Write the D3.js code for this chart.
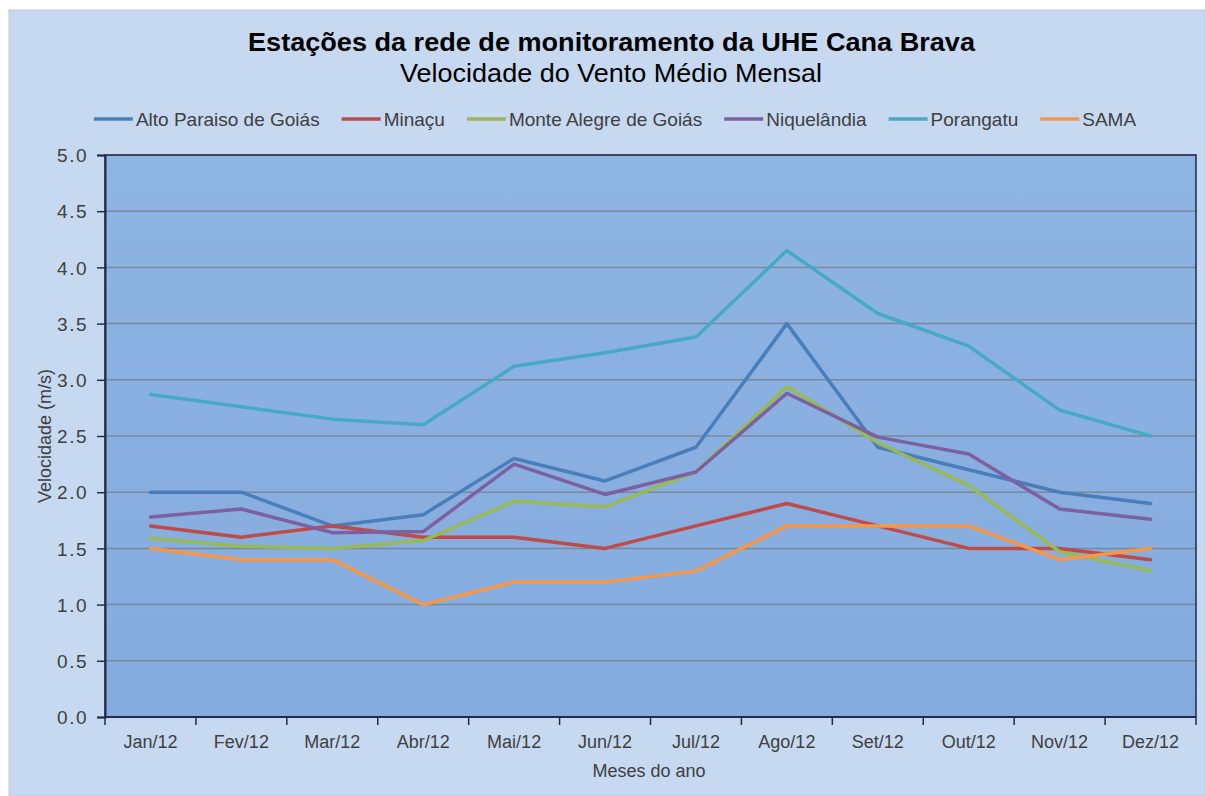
<!DOCTYPE html>
<html>
<head>
<meta charset="utf-8">
<script src="https://cdn.jsdelivr.net/npm/d3@7"></script>
<style>
  body { margin: 0; background: #ffffff; }
  svg { display: block; font-family: "Liberation Sans", Arial, sans-serif; }
</style>
</head>
<body>
<svg id="chart" width="1205" height="796"></svg>
<script>
// months on the x axis
const months = ['Jan/12', 'Fev/12', 'Mar/12', 'Abr/12', 'Mai/12', 'Jun/12',
                'Jul/12', 'Ago/12', 'Set/12', 'Out/12', 'Nov/12', 'Dez/12'];

// station names (legend order)
const stations = ['Alto Paraiso de Goiás', 'Minaçu', 'Monte Alegre de Goiás',
                  'Niquelândia', 'Porangatu', 'SAMA'];

// monthly mean wind speed (m/s)
const altoParaiso  = [2.00, 2.00, 1.70, 1.80, 2.30, 2.10, 2.40, 3.50, 2.40, 2.20, 2.00, 1.90];
const minacu       = [1.70, 1.60, 1.70, 1.60, 1.60, 1.50, 1.70, 1.90, 1.70, 1.50, 1.50, 1.40];
const monteAlegre  = [1.59, 1.52, 1.50, 1.57, 1.92, 1.87, 2.18, 2.94, 2.44, 2.06, 1.47, 1.30];
const niquelandia  = [1.78, 1.85, 1.64, 1.65, 2.25, 1.98, 2.18, 2.88, 2.49, 2.34, 1.85, 1.76];
const porangatu    = [2.87, 2.76, 2.65, 2.60, 3.12, 3.24, 3.38, 4.15, 3.59, 3.30, 2.73, 2.50];
const sama         = [1.50, 1.40, 1.40, 1.00, 1.20, 1.20, 1.30, 1.70, 1.70, 1.70, 1.40, 1.50];

const seriesValues = [altoParaiso, minacu, monteAlegre, niquelandia, porangatu, sama];
const colors = ['#4a7ebb', '#be4b48', '#98b954', '#7d60a0', '#46aac5', '#f79646'];

const yTicks = [0, 0.5, 1, 1.5, 2, 2.5, 3, 3.5, 4, 4.5, 5];

const svg = d3.select('#chart');

// chart area background
svg.append('rect')
  .attr('x', 9).attr('y', 10)
  .attr('width', 1205 - 9).attr('height', 796 - 10)
  .attr('fill', '#c6d9f1')
  .attr('stroke', '#b9cbe2').attr('stroke-width', 1);

const plot = { left: 105, right: 1196, top: 155, bottom: 717 };

const x = d3.scaleBand().domain(months).range([plot.left, plot.right]);
const y = d3.scaleLinear().domain([0, 5]).range([plot.bottom, plot.top]);

// plot area gradient
const defs = svg.append('defs');
const grad = defs.append('linearGradient')
  .attr('id', 'plotFill').attr('x1', 0).attr('y1', 0).attr('x2', 0).attr('y2', 1);
grad.append('stop').attr('offset', '0%').attr('stop-color', '#8eb4e3');
grad.append('stop').attr('offset', '100%').attr('stop-color', '#84abde');

svg.append('rect')
  .attr('x', plot.left).attr('y', plot.top)
  .attr('width', plot.right - plot.left).attr('height', plot.bottom - plot.top)
  .attr('fill', 'url(#plotFill)');

// horizontal grid lines
svg.append('g')
  .selectAll('line')
  .data(yTicks.slice(1))
  .enter()
  .append('line')
  .attr('x1', plot.left).attr('x2', plot.right)
  .attr('y1', d => y(d)).attr('y2', d => y(d))
  .attr('stroke', '#7a8797').attr('stroke-width', 1.5);

// plot border
svg.append('rect')
  .attr('x', plot.left).attr('y', plot.top)
  .attr('width', plot.right - plot.left).attr('height', plot.bottom - plot.top)
  .attr('fill', 'none').attr('stroke', '#1f2d4a').attr('stroke-width', 1.5);

// y axis
const yAxis = svg.append('g')
  .attr('transform', `translate(${plot.left},0)`)
  .call(d3.axisLeft(y).tickValues(yTicks).tickFormat(d3.format('.1f')).tickSizeOuter(0).tickSize(8).tickPadding(9));
yAxis.select('.domain').attr('stroke', '#1f2d4a').attr('stroke-width', 2);
yAxis.selectAll('.tick line').attr('stroke', '#1f2d4a').attr('stroke-width', 1.5);
yAxis.selectAll('.tick text')
  .attr('fill', '#404040').style('font-size', '19px').style('letter-spacing', '1.5px')
  .attr('dy', '0.35em');

// x axis: ticks at band boundaries
const xAxisG = svg.append('g').attr('transform', `translate(0,${plot.bottom})`);
xAxisG.append('line')
  .attr('x1', plot.left).attr('x2', plot.right)
  .attr('stroke', '#1f2d4a').attr('stroke-width', 2);
xAxisG.selectAll('line.tick')
  .data(months.map(m => x(m)).concat([plot.right]))
  .enter()
  .append('line')
  .classed('tick', true)
  .attr('x1', d => d).attr('x2', d => d)
  .attr('y1', 0).attr('y2', 8)
  .attr('stroke', '#1f2d4a').attr('stroke-width', 1.5);
xAxisG.selectAll('text')
  .data(months)
  .enter()
  .append('text')
  .attr('x', d => x(d) + x.bandwidth() / 2)
  .attr('y', 31)
  .attr('text-anchor', 'middle')
  .attr('fill', '#404040')
  .style('font-size', '18px')
  .text(d => d);

// axis titles
svg.append('text')
  .attr('transform', `translate(51,${(plot.top + plot.bottom) / 2}) rotate(-90)`)
  .attr('text-anchor', 'middle')
  .attr('fill', '#404040')
  .style('font-size', '18px')
  .text('Velocidade (m/s)');

svg.append('text')
  .attr('x', 649)
  .attr('y', 777)
  .attr('text-anchor', 'middle')
  .attr('fill', '#404040')
  .style('font-size', '18px')
  .text('Meses do ano');

// lines
const line = d3.line()
  .x((d, i) => x(months[i]) + x.bandwidth() / 2)
  .y(d => y(d));

svg.append('g')
  .selectAll('path')
  .data(seriesValues)
  .enter()
  .append('path')
  .attr('d', d => line(d))
  .attr('fill', 'none')
  .attr('stroke', (d, i) => colors[i])
  .attr('stroke-width', 3.5)
  .attr('stroke-linejoin', 'round')
  .attr('stroke-linecap', 'round');

// titles (stretched a little, like the original)
svg.append('text')
  .attr('x', 248).attr('y', 51)
  .attr('textLength', 727).attr('lengthAdjust', 'spacingAndGlyphs')
  .attr('fill', '#000000')
  .style('font-size', '25px').style('font-weight', 'bold')
  .text('Estações da rede de monitoramento da UHE Cana Brava');

svg.append('text')
  .attr('x', 400).attr('y', 82)
  .attr('textLength', 422).attr('lengthAdjust', 'spacingAndGlyphs')
  .attr('fill', '#000000')
  .style('font-size', '25px')
  .text('Velocidade do Vento Médio Mensal');

// legend
const legend = svg.append('g');
const items = legend.selectAll('g.item')
  .data(stations)
  .enter()
  .append('g')
  .classed('item', true);
items.append('line')
  .attr('x1', 0).attr('x2', 39)
  .attr('y1', 0).attr('y2', 0)
  .attr('stroke', (d, i) => colors[i])
  .attr('stroke-width', 3.5);
items.append('text')
  .attr('x', 42).attr('y', 0).attr('dy', '0.35em')
  .attr('fill', '#404040')
  .style('font-size', '19px')
  .text(d => d);

let offset = 0;
const widths = [];
items.each(function () {
  const w = d3.select(this).select('text').node().getComputedTextLength();
  widths.push(42 + w);
});
const gap = 22;
const total = d3.sum(widths) + gap * (widths.length - 1);
const start = 615 - total / 2;
items.attr('transform', (d, i) => {
  const tx = start + offset;
  offset += widths[i] + gap;
  return `translate(${tx},119)`;
});
</script>
</body>
</html>
